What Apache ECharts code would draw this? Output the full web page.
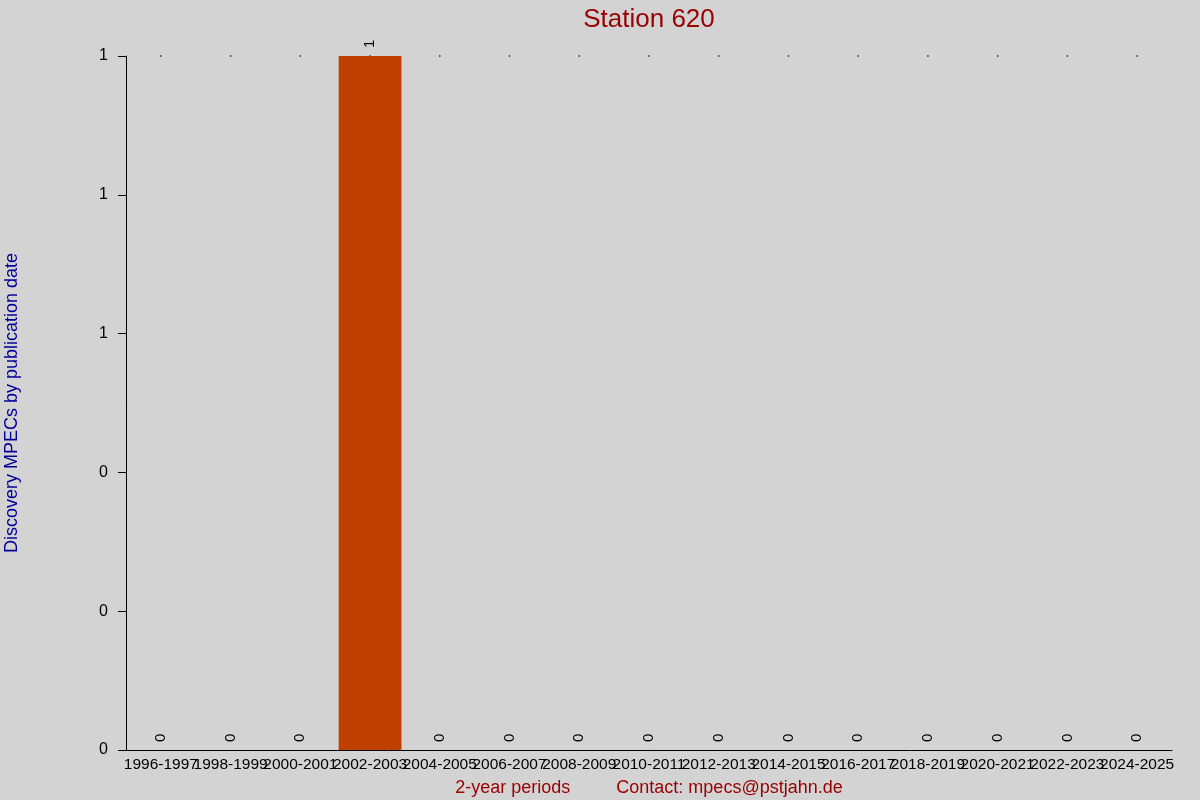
<!DOCTYPE html>
<html>
<head>
<meta charset="utf-8">
<script src="https://cdn.jsdelivr.net/npm/echarts@6/dist/echarts.min.js"></script>
<style>html,body{margin:0;padding:0;background:#d3d3d3;}#c{width:1200px;height:800px;}</style>
</head>
<body>
<div id="c"></div>
<script>
const categories = ['1996-1997','1998-1999','2000-2001','2002-2003','2004-2005','2006-2007','2008-2009','2010-2011','2012-2013','2014-2015','2016-2017','2018-2019','2020-2021','2022-2023','2024-2025'];
const values = [0,0,0,1,0,0,0,0,0,0,0,0,0,0,0];
const titleText = 'Station 620';
const yAxisName = 'Discovery MPECs by publication date';
const xAxisName = '2-year periods';
const contactText = 'Contact: mpecs@pstjahn.de';
const yMin = 0, yMax = 1, yStep = 0.2;

const FONT = '"Liberation Sans", Arial, sans-serif';
const chart = echarts.init(document.getElementById('c'), null, {renderer: 'canvas'});
chart.setOption({
  backgroundColor: '#d3d3d3',
  animation: false,
  title: {
    text: titleText,
    left: 644,
    top: 2,
    textAlign: 'center',
    textStyle: {color: '#990000', fontSize: 26, fontWeight: 'normal', fontFamily: FONT}
  },
  grid: {left: 126, right: 28, top: 56, bottom: 50, containLabel: false, outerBoundsMode: 'none'},
  xAxis: {
    type: 'category',
    data: categories,
    name: '{a|' + xAxisName + '}{g|}{b|' + contactText + '}',
    nameLocation: 'middle',
    nameGap: 29,
    nameTextStyle: {
      rich: {
        a: {color: '#990000', fontSize: 18, fontFamily: FONT},
        g: {width: 46},
        b: {color: '#990000', fontSize: 18, fontFamily: FONT}
      }
    },
    axisLine: {show: true, lineStyle: {color: '#000', width: 1}},
    axisTick: {show: false},
    axisLabel: {interval: 0, color: '#000', fontSize: 15.5, fontFamily: FONT, margin: 7},
    splitLine: {show: false}
  },
  yAxis: {
    type: 'value',
    min: yMin,
    max: yMax,
    interval: yStep,
    name: yAxisName,
    nameLocation: 'middle',
    nameGap: 105,
    nameTextStyle: {color: '#000099', fontSize: 18, fontFamily: FONT},
    axisLine: {show: true, lineStyle: {color: '#000', width: 1}},
    axisTick: {show: true, length: 8, lineStyle: {color: '#000'}},
    axisLabel: {color: '#000', fontSize: 16, fontFamily: FONT, margin: 18, formatter: v => String(Math.round(v))},
    splitLine: {show: false}
  },
  series: [
    {
      type: 'bar',
      data: values,
      barCategoryGap: '10%',
      itemStyle: {color: '#c04000'},
      label: {
        show: true,
        position: 'top',
        rotate: 90,
        align: 'left',
        verticalAlign: 'middle',
        distance: 8,
        color: '#000',
        fontSize: 15,
        fontFamily: FONT
      }
    },
    {
      type: 'scatter',
      data: categories.map(() => yMax),
      symbol: 'rect',
      symbolSize: 1.5,
      itemStyle: {color: '#000'},
      silent: true,
      z: 1
    }
  ]
});
</script>
</body>
</html>
